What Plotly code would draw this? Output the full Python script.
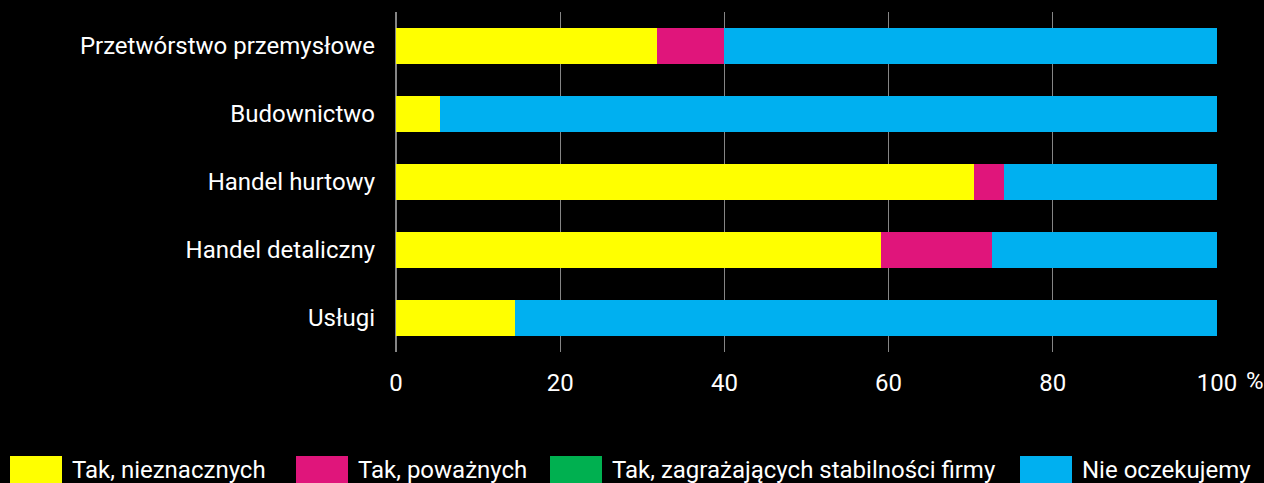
import plotly.graph_objects as go

categories = ["Przetwórstwo przemysłowe", "Budownictwo", "Handel hurtowy", "Handel detaliczny", "Usługi"]
series_names = ["Tak, nieznacznych", "Tak, poważnych", "Tak, zagrażających stabilności firmy", "Nie oczekujemy"]
colors = ["#FFFF00", "#E0157B", "#00B050", "#00B0F0"]
tak_nieznacznych = [31.8, 5.4, 70.4, 59.1, 14.5]
tak_powaznych = [8.2, 0.0, 3.7, 13.5, 0.0]
tak_zagrazajacych = [0.0, 0.0, 0.0, 0.0, 0.0]
nie_oczekujemy = [60.0, 94.6, 25.9, 27.4, 85.5]
x_ticks = [0, 20, 40, 60, 80, 100]
x_tick_labels = ["0", "20", "40", "60", "80", "100"]

values = [tak_nieznacznych, tak_powaznych, tak_zagrazajacych, nie_oczekujemy]
FONT = "Roboto"
FS = 24

fig = go.Figure()
for name, col, vals in zip(series_names, colors, values):
    fig.add_trace(go.Bar(
        y=categories, x=vals, name=name, orientation="h",
        marker=dict(color=col, line=dict(width=0)),
        showlegend=False,
    ))

fig.update_layout(
    barmode="stack",
    bargap=0.47,
    width=1264, height=483,
    margin=dict(l=396, r=47, t=12, b=131),
    paper_bgcolor="black", plot_bgcolor="black",
    font=dict(family=FONT, size=FS, color="white"),
    xaxis=dict(
        range=[0, 100], tickvals=x_ticks, ticktext=x_tick_labels,
        showgrid=True, gridcolor="#858585", gridwidth=1,
        zeroline=True, zerolinecolor="#858585",
        ticks="", ticklabelstandoff=14,
        tickfont=dict(family=FONT, size=FS, color="white"),
        fixedrange=True,
    ),
    yaxis=dict(
        categoryorder="array", categoryarray=categories[::-1],
        autorange=False, range=[-0.5, len(categories) - 0.5],
        showgrid=False, zeroline=False,
        ticks="", ticklabelstandoff=20,
        tickfont=dict(family=FONT, size=FS, color="white"),
    ),
)

# "%" after the 100 tick label
fig.add_annotation(x=100, y=(352 - 381) / 340, xref="x", yref="paper", yanchor="middle", xanchor="left",
                   xshift=27, text="%", showarrow=False,
                   font=dict(family=FONT, size=FS, color="white"))

# manual legend with large squares
legend_x = [10, 296, 550, 1020]
for lx, name, col in zip(legend_x, series_names, colors):
    fig.add_shape(type="rect", xref="paper", yref="paper",
                  x0=(lx - 396) / 821, x1=(lx + 52 - 396) / 821,
                  y0=(352 - 490) / 340, y1=(352 - 456) / 340,
                  fillcolor=col, line=dict(width=0), layer="above")
    fig.add_annotation(x=(lx + 60 - 396) / 821, y=(352 - 470) / 340, xref="paper", yref="paper",
                       xanchor="left", yanchor="middle", text=name, showarrow=False,
                       font=dict(family=FONT, size=FS, color="white"))

fig.write_html("out.html", config={"displayModeBar": False},
               post_script="document.body.style.margin='0';document.body.style.background='black';")
